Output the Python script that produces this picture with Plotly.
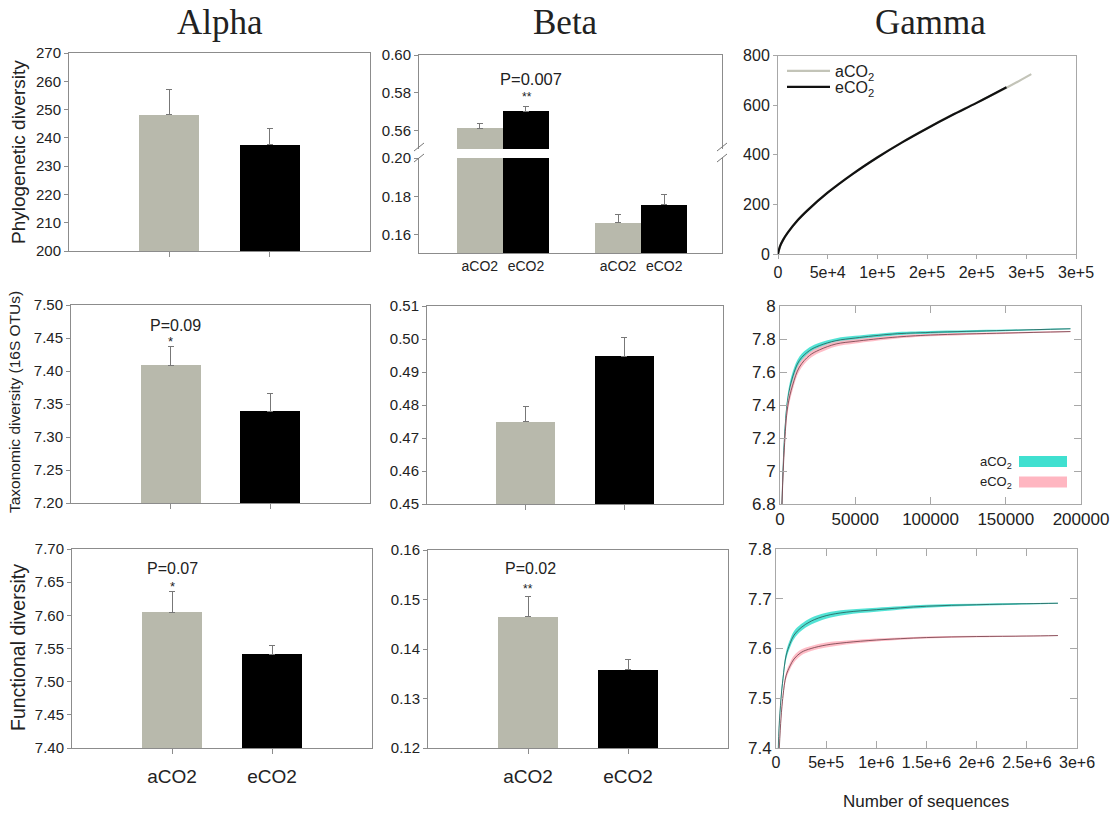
import plotly.graph_objects as go

W, H = 1118, 813

# ---------------- data ----------------
groups = ["aCO2", "eCO2"]

# Alpha diversity (mean, SE)
alpha_phylo = [248.2, 237.6]
alpha_phylo_se = [9.0, 5.8]
alpha_tax = [7.409, 7.339]
alpha_tax_se = [0.028, 0.027]
alpha_func = [7.605, 7.541]
alpha_func_se = [0.031, 0.014]

# Beta diversity
beta_phylo_set1 = [0.5615, 0.5705]
beta_phylo_set1_se = [0.0025, 0.0023]
beta_phylo_set2 = [0.1663, 0.1757]
beta_phylo_set2_se = [0.0045, 0.0051]
beta_tax = [0.4750, 0.4947]
beta_tax_se = [0.0046, 0.0058]
beta_func = [0.1465, 0.1358]
beta_func_se = [0.0041, 0.0020]

# Gamma: phylogenetic rarefaction
g1_x_a = [0, 2000, 5000, 10000, 20000, 30000, 50000, 75000, 100000, 125000,
          150000, 175000, 200000, 230000, 255000]
g1_y_a = [0, 31, 56, 87, 137, 178, 248, 323, 390, 451, 507, 560, 610, 670, 725]
g1_x_e = [0, 2000, 5000, 10000, 20000, 30000, 50000, 75000, 100000, 125000,
          150000, 175000, 200000, 230000]
g1_y_e = [0, 31, 56, 87, 137, 177, 247, 322, 389, 450, 506, 559, 609, 672]
g1_ticks = [0, 50000, 100000, 150000, 200000, 250000, 300000]
g1_ticktext = ["0", "5e+4", "1e+5", "2e+5", "2e+5", "3e+5", "3e+5"]

# Gamma: taxonomic (16S OTUs)
g2_x = [1300, 2900, 5100, 8400, 12900, 19600, 26200, 37300, 50000, 75000,
        100000, 150000, 193000]
g2_a = [6.80, 7.19, 7.43, 7.57, 7.67, 7.73, 7.76, 7.79, 7.806, 7.83, 7.84, 7.852, 7.862]
g2_a_band = [0.04, 0.04, 0.035, 0.03, 0.024, 0.02, 0.018, 0.015, 0.013, 0.010, 0.008, 0.005, 0.003]
g2_e = [6.80, 7.14, 7.39, 7.52, 7.63, 7.70, 7.734, 7.77, 7.786, 7.81, 7.824, 7.836, 7.845]
g2_e_band = [0.04, 0.04, 0.035, 0.03, 0.024, 0.02, 0.018, 0.015, 0.013, 0.010, 0.008, 0.005, 0.003]

# Gamma: functional
g3_x_a = [23000, 30000, 50000, 70000, 100000, 140000, 180000, 250000, 350000, 500000,
          700000, 1000000, 1500000, 2000000, 2500000, 2810000]
g3_a = [7.40, 7.44, 7.50, 7.54, 7.585, 7.61, 7.627, 7.642, 7.655, 7.666,
        7.673, 7.678, 7.685, 7.688, 7.690, 7.691]
g3_a_band = [0.008, 0.008, 0.008, 0.008, 0.008, 0.008, 0.008, 0.007, 0.007, 0.006,
             0.005, 0.004, 0.003, 0.002, 0.0015, 0.001]
g3_x_e = [33000, 50000, 70000, 100000, 140000, 180000, 250000, 350000, 500000,
          700000, 1000000, 1500000, 2000000, 2500000, 2810000]
g3_e = [7.40, 7.46, 7.505, 7.545, 7.565, 7.579, 7.592, 7.600, 7.607,
        7.612, 7.617, 7.622, 7.624, 7.625, 7.626]
g3_e_band = [0.008, 0.008, 0.008, 0.007, 0.007, 0.007, 0.006, 0.005, 0.005,
             0.004, 0.003, 0.002, 0.0015, 0.001, 0.001]
g3_ticks = [0, 500000, 1000000, 1500000, 2000000, 2500000, 3000000]
g3_ticktext = ["0", "5e+5", "1e+6", "1.5e+6", "2e+6", "2.5e+6", "3e+6"]

# ---------------- style ----------------
GRAY = "#b8b9ac"
BLACK = "#000000"
BAR_COLORS = [GRAY, BLACK]
TEAL = "#40e0d0"
PINK = "#ffb6c1"
FRAME = "#8c8c8c"
GFRAME = "#a8a8a8"
TXT = "#222222"
FONT = "Liberation Sans, Arial, sans-serif"


def xd(a, b):
    return [a / W, b / W]


def yd(top, bottom):
    return [1 - bottom / H, 1 - top / H]


fig = go.Figure()
layout = dict(
    width=W, height=H, margin=dict(l=0, r=0, t=0, b=0, pad=0, autoexpand=False),
    paper_bgcolor="white", plot_bgcolor="white",
    font=dict(family=FONT, color=TXT, size=15),
    showlegend=True,
)


def bar_axes(n, xdom, ydom, yrange, dtick, tickformat, show_labels, label_size=19):
    layout[f"xaxis{n}"] = dict(
        domain=xd(*xdom), anchor=f"y{n}", range=[-1, 2],
        tickvals=[0, 1], ticktext=groups, showticklabels=show_labels,
        tickfont=dict(size=label_size, color=TXT),
        showline=True, mirror=True, linecolor=FRAME, linewidth=1,
        ticks="outside", ticklen=5, tickcolor=FRAME,
        showgrid=False, zeroline=False, ticklabelstandoff=6, automargin=False,
    )
    layout[f"yaxis{n}"] = dict(
        domain=yd(*ydom), anchor=f"x{n}", range=yrange, dtick=dtick,
        tickformat=tickformat, tickfont=dict(size=15, color=TXT),
        showline=True, mirror=True, linecolor=FRAME, linewidth=1,
        ticks="outside", ticklen=4, tickcolor=FRAME,
        showgrid=False, zeroline=False, automargin=False,
    )


def add_bars(n, vals, errs, width=0.6, xs=(0, 1), offset=None):
    fig.add_trace(go.Bar(
        x=list(xs), y=vals, width=width, offset=offset,
        marker=dict(color=BAR_COLORS, line=dict(width=0)),
        error_y=dict(type="data", symmetric=False, array=errs,
                     arrayminus=[0] * len(vals), color="#777777",
                     thickness=1, width=3),
        xaxis=f"x{n}", yaxis=f"y{n}", showlegend=False,
    ))


# Row 1 Alpha
bar_axes(1, (69, 370), (53, 251), [200, 270], 10, "d", False)
add_bars(1, alpha_phylo, alpha_phylo_se)

# Row 1 Beta (broken axis): upper part axis 2, lower part axis 3
layout["xaxis2"] = dict(domain=xd(419, 722), anchor="y2", range=[-0.607, 1.585],
                        showticklabels=False, showline=True, side="top",
                        linecolor=FRAME, showgrid=False, zeroline=False, ticks="",
                        automargin=False)
layout["yaxis2"] = dict(domain=yd(55, 149), anchor="x2", range=[0.5505, 0.60],
                        tickvals=[0.56, 0.58, 0.60], tickformat=".2f",
                        tickfont=dict(size=15, color=TXT),
                        showline=True, mirror=True, linecolor=FRAME,
                        ticks="outside", ticklen=4, tickcolor=FRAME,
                        showgrid=False, zeroline=False, automargin=False)
beta_pos = [-1 / 6, 1 / 6, 5 / 6, 7 / 6]
layout["xaxis3"] = dict(domain=xd(419, 722), anchor="y3", range=[-0.607, 1.585],
                        tickvals=beta_pos, ticktext=groups + groups,
                        tickfont=dict(size=14, color=TXT),
                        showline=True, linecolor=FRAME, showgrid=False,
                        zeroline=False, ticks="", automargin=False)
layout["yaxis3"] = dict(domain=yd(158, 253), anchor="x3", range=[0.1506, 0.20],
                        tickvals=[0.16, 0.18, 0.20], tickformat=".2f",
                        tickfont=dict(size=15, color=TXT),
                        showline=True, mirror=True, linecolor=FRAME,
                        ticks="outside", ticklen=4, tickcolor=FRAME,
                        showgrid=False, zeroline=False, automargin=False)
for n in (2, 3):
    for i, c in enumerate(BAR_COLORS):
        vals = [beta_phylo_set1[i], beta_phylo_set2[i]]
        errs = [beta_phylo_set1_se[i], beta_phylo_set2_se[i]]
        fig.add_trace(go.Bar(
            x=[0, 1], y=vals, width=1 / 3, offset=-1 / 3 if i == 0 else 0,
            marker=dict(color=c, line=dict(width=0)),
            error_y=dict(type="data", symmetric=False, array=errs,
                         arrayminus=[0, 0], color="#777777", thickness=1, width=3),
            xaxis=f"x{n}", yaxis=f"y{n}", showlegend=False,
        ))

# Row 1 Gamma
layout["xaxis4"] = dict(domain=xd(778, 1076), anchor="y4", range=[0, 300000],
                        tickvals=g1_ticks, ticktext=g1_ticktext,
                        tickfont=dict(size=16, color=TXT),
                        showline=True, mirror=True, linecolor=GFRAME,
                        ticks="outside", ticklen=4, tickcolor=GFRAME,
                        showgrid=False, zeroline=False, automargin=False)
layout["yaxis4"] = dict(domain=yd(55.5, 254), anchor="x4", range=[0, 800], dtick=200,
                        tickfont=dict(size=16, color=TXT),
                        showline=True, mirror=True, linecolor=GFRAME,
                        ticks="outside", ticklen=4, tickcolor=GFRAME,
                        showgrid=False, zeroline=False, automargin=False)
fig.add_trace(go.Scatter(x=g1_x_a, y=g1_y_a, mode="lines", name="aCO<sub>2</sub>",
                         line=dict(color="#c3c4b8", width=2.2, shape="spline"),
                         xaxis="x4", yaxis="y4", legend="legend"))
fig.add_trace(go.Scatter(x=g1_x_e, y=g1_y_e, mode="lines", name="eCO<sub>2</sub>",
                         line=dict(color="#111111", width=2.2, shape="spline"),
                         xaxis="x4", yaxis="y4", legend="legend2"))
for key, ytop in (("legend", 54), ("legend2", 70)):
    layout[key] = dict(x=782 / W, y=1 - ytop / H, xanchor="left", yanchor="top",
                       bgcolor="rgba(0,0,0,0)", font=dict(size=16, color=TXT),
                       itemwidth=43, traceorder="normal", borderwidth=0)

# Row 2 Alpha / Beta
bar_axes(5, (71, 370), (305, 503), [7.20, 7.50], 0.05, ".2f", False)
add_bars(5, alpha_tax, alpha_tax_se)
bar_axes(6, (427, 723), (306, 504), [0.45, 0.51], 0.01, ".2f", False)
add_bars(6, beta_tax, beta_tax_se)


def gnu_axes(n, xdom, ydom, xrange, xticks, xtext, yrange, dtick, xfont, yfont):
    layout[f"xaxis{n}"] = dict(domain=xd(*xdom), anchor=f"y{n}", range=xrange,
                               tickvals=xticks, ticktext=xtext,
                               tickfont=dict(size=xfont, color=TXT),
                               showline=True, mirror="ticks", linecolor=GFRAME,
                               ticks="inside", ticklen=7, tickcolor=GFRAME,
                               showgrid=False, zeroline=False, automargin=False)
    layout[f"yaxis{n}"] = dict(domain=yd(*ydom), anchor=f"x{n}", range=yrange,
                               dtick=dtick, tickfont=dict(size=yfont, color=TXT),
                               showline=True, mirror="ticks", linecolor=GFRAME,
                               ticks="inside", ticklen=7, tickcolor=GFRAME,
                               showgrid=False, zeroline=False, automargin=False)


def band(n, xs, mean, half, fill, line):
    up = [m + h for m, h in zip(mean, half)]
    lo = [m - h for m, h in zip(mean, half)]
    fig.add_trace(go.Scatter(x=xs, y=up, mode="lines", line=dict(width=0, shape="spline"),
                             showlegend=False, hoverinfo="skip",
                             xaxis=f"x{n}", yaxis=f"y{n}"))
    fig.add_trace(go.Scatter(x=xs, y=lo, mode="lines", line=dict(width=0, shape="spline"),
                             fill="tonexty", fillcolor=fill, showlegend=False,
                             hoverinfo="skip", xaxis=f"x{n}", yaxis=f"y{n}"))
    fig.add_trace(go.Scatter(x=xs, y=mean, mode="lines",
                             line=dict(color=line, width=1, shape="spline"),
                             showlegend=False, xaxis=f"x{n}", yaxis=f"y{n}"))


# Row 2 Gamma
gnu_axes(7, (780, 1081), (306, 504), [0, 200000],
         [0, 50000, 100000, 150000, 200000],
         ["0", "50000", "100000", "150000", "200000"], [6.8, 8.0], 0.2, 17, 17)
band(7, g2_x, g2_a, g2_a_band, "rgba(64,224,208,0.9)", "rgba(40,90,85,0.8)")
band(7, g2_x, g2_e, g2_e_band, "rgba(255,182,193,0.9)", "rgba(110,60,70,0.8)")

# Row 3
bar_axes(8, (72, 372), (549, 748), [7.40, 7.70], 0.05, ".2f", True)
add_bars(8, alpha_func, alpha_func_se)
bar_axes(9, (428, 728), (550, 748), [0.12, 0.16], 0.01, ".2f", True)
add_bars(9, beta_func, beta_func_se)
gnu_axes(10, (776, 1077), (549, 748), [0, 3000000], g3_ticks, g3_ticktext,
         [7.4, 7.8], 0.1, 16, 17)
band(10, g3_x_a, g3_a, g3_a_band, "rgba(64,224,208,0.9)", "rgba(40,90,85,0.8)")
band(10, g3_x_e, g3_e, g3_e_band, "rgba(255,182,193,0.9)", "rgba(110,60,70,0.8)")

# ---------------- annotations ----------------
ann = []


def note(text, x, y, size, **kw):
    d = dict(text=text, x=x / W, y=1 - y / H, xref="paper", yref="paper",
             xanchor="center", yanchor="middle", showarrow=False,
             font=dict(size=size, color=TXT))
    d.update(kw)
    ann.append(d)


for txt, x in (("Alpha", 220), ("Beta", 565), ("Gamma", 930)):
    note(txt, x, 23, 35, font=dict(family="Liberation Serif, Times New Roman, serif",
                                   size=35, color=TXT))
for txt, x, y, s in (("Phylogenetic diversity", 18, 152, 19),
                     ("Taxonomic diversity (16S OTUs)", 15, 402, 15.5),
                     ("Functional diversity", 18, 648, 19.5)):
    note(txt, x, y, s, textangle=-90)
note("Number of sequences", 926, 801, 17)

# significance labels (anchored to data axes)
sig = [
    ("x2", "y2", 0.203, 0.5874, "P=0.007", 16.5),
    ("x2", "y2", 0.174, 0.5779, "**", 12),
    ("x5", "y5", 0.05, 7.4697, "P=0.09", 16),
    ("x5", "y5", 0.0, 7.444, "*", 13),
    ("x8", "y8", 0.0, 7.670, "P=0.07", 16),
    ("x8", "y8", 0.0, 7.643, "*", 13),
    ("x9", "y9", 0.02, 0.1562, "P=0.02", 16),
    ("x9", "y9", 0.0, 0.1521, "**", 12),
]
for xr, yr, x, y, t, s in sig:
    ann.append(dict(text=t, x=x, y=y, xref=xr, yref=yr, showarrow=False,
                    xanchor="center", yanchor="middle",
                    font=dict(size=s, color=TXT)))

# legend for the band panels (row 2 gamma)
shapes = []
for lab, ycen, col in (("aCO<sub>2</sub>", 461.5, TEAL), ("eCO<sub>2</sub>", 482, PINK)):
    note(lab, 1014, ycen + 1, 13, xanchor="right")
    shapes.append(dict(type="rect", xref="paper", yref="paper",
                       x0=1019 / W, x1=1067 / W, y0=1 - (ycen + 5.5) / H,
                       y1=1 - (ycen - 5.5) / H, fillcolor=col, line=dict(width=0)))

# axis break marks on the broken beta axis
for xb in (419, 722):
    for yb in (147, 158):
        shapes.append(dict(type="line", xref="paper", yref="paper",
                           x0=(xb - 5) / W, y0=1 - (yb + 4) / H,
                           x1=(xb + 5) / W, y1=1 - (yb - 4) / H,
                           line=dict(color="#777777", width=1)))

layout["annotations"] = ann
layout["shapes"] = shapes
layout["bargap"] = 0
fig.update_layout(**layout)
fig.write_html("out.html")
